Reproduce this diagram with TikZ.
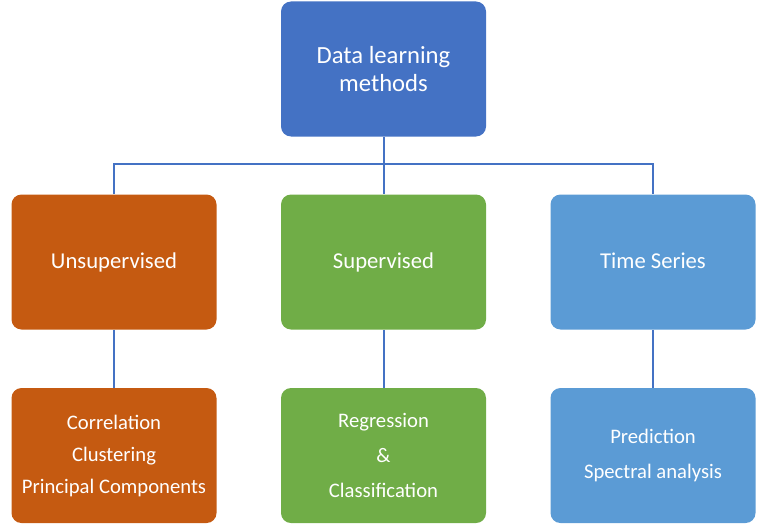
\documentclass[tikz,border=0pt]{standalone}
\usepackage{fontspec}
\setmainfont{Carlito}
\usepackage{tikz}
\usetikzlibrary{positioning}
\definecolor{topblue}{HTML}{4472C4}
\definecolor{rust}{HTML}{C55A11}
\definecolor{leaf}{HTML}{70AD47}
\definecolor{sky}{HTML}{5B9BD5}
\tikzset{
  box/.style={rounded corners=7.5pt, minimum width=153.75pt, minimum height=101.25pt,
    text=white, align=center, inner sep=0pt},
  midfont/.style={font=\fontsize{17}{21}\selectfont, text height=2.2ex, text depth=.25ex},
  link/.style={draw=topblue, line width=1.5pt}
}

\begin{document}
\begin{tikzpicture}[x=0.75pt,y=-0.75pt]
      \useasboundingbox (0,0) rectangle (767,528);
      \node[name=root, box, fill=topblue, font=\fontsize{18.5}{21}\selectfont] at (383.5,69){Data learning\\methods};
      \node[name=unsup, box, fill=rust, midfont] at (114,262){Unsupervised};
      \node[name=sup, box, fill=leaf, midfont] at (383.5,262){Supervised};
      \node[name=ts, box, fill=sky, midfont] at (653,262){Time Series};
      \node[name=unsupx, box, fill=rust, font=\fontsize{15.5}{24}\selectfont, below=43.5pt of unsup]{Correlation\\Clustering\\Principal Components};
      \node[name=supx, box, fill=leaf, font=\fontsize{15.5}{26.25}\selectfont, below=43.5pt of sup]{Regression\\\&\\Classification};
      \node[name=tsx, box, fill=sky, font=\fontsize{15.5}{26.25}\selectfont, below=43.5pt of ts]{Prediction\\Spectral analysis};
      \coordinate (bus) at (383.5,164);
      \draw[link] (root.south) -- (bus);
      \draw[link] (unsup.north) |- (bus) -| (ts.north);
      \draw[link] (bus) -- (sup.north);
      \draw[link] (unsup) -- (unsupx);
      \draw[link] (sup) -- (supx);
      \draw[link] (ts) -- (tsx);
    \end{tikzpicture}
\end{document}
